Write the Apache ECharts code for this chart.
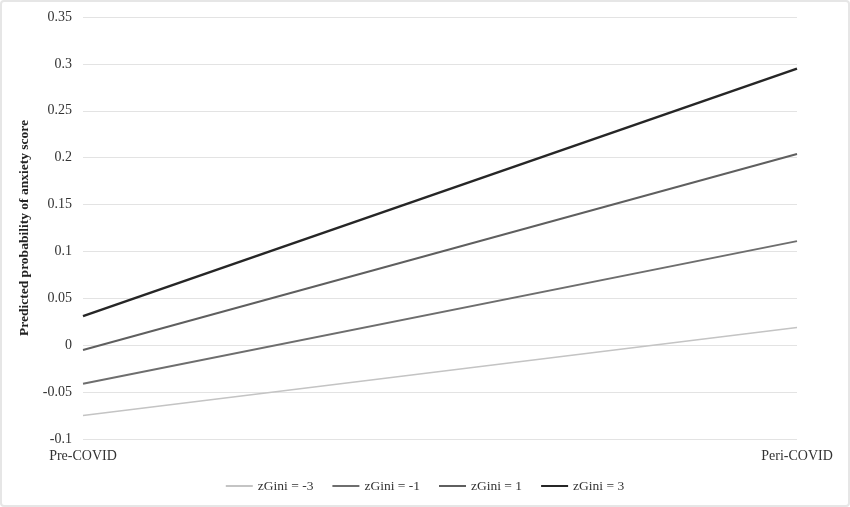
<!DOCTYPE html>
<html><head><meta charset="utf-8">
<script src="https://cdn.jsdelivr.net/npm/echarts@6/dist/echarts.min.js"></script>
<style>
html,body{margin:0;padding:0;background:#fff;}
#c{width:850px;height:507px;box-sizing:border-box;border:2px solid #e6e6e6;border-radius:4px;}
</style></head>
<body><div id="c"></div>
<script>
const categories = ["Pre-COVID", "Peri-COVID"];
const seriesNames = ["zGini = -3", "zGini = -1", "zGini = 1", "zGini = 3"];
const giniM3 = [-0.075, 0.019];
const giniM1 = [-0.041, 0.111];
const giniP1 = [-0.005, 0.204];
const giniP3 = [0.031, 0.295];
const yTicks = {min: -0.1, max: 0.35, interval: 0.05};

const colors = ["#c4c4c4", "#6e6e6e", "#5f5f5f", "#262626"];
const widths = [1.5, 2, 2, 2.5];
const data = [giniM3, giniM1, giniP1, giniP3];
const font = "Liberation Serif";

const chart = echarts.init(document.getElementById('c'));
chart.setOption({
  animation: false,
  grid: {left: 81, right: 51, top: 15, bottom: 66, containLabel: false},
  legend: {
    show: true, bottom: 7, left: 'center', itemWidth: 27, itemHeight: 2, itemGap: 19,
    icon: 'rect',
    textStyle: {fontFamily: font, fontSize: 13.5, color: '#333'},
    data: seriesNames
  },
  xAxis: {
    type: 'category', data: categories, boundaryGap: false,
    axisLine: {show: false}, axisTick: {show: false},
    axisLabel: {fontFamily: font, fontSize: 14, color: '#333', margin: 10}
  },
  yAxis: {
    type: 'value', min: yTicks.min, max: yTicks.max, interval: yTicks.interval,
    name: 'Predicted probability of anxiety score', nameLocation: 'middle', nameGap: 46,
    nameTextStyle: {fontFamily: font, fontSize: 13.5, fontWeight: 'bold', color: '#222'},
    axisLabel: {fontFamily: font, fontSize: 14, color: '#333', margin: 11,
      formatter: v => String(Math.round(v * 100) / 100)},
    splitLine: {lineStyle: {color: '#e3e3e3', width: 1}},
    axisLine: {show: false}, axisTick: {show: false}
  },
  series: data.map((d, i) => ({
    name: seriesNames[i], type: 'line', data: d, symbol: 'none',
    lineStyle: {color: colors[i], width: widths[i]}, itemStyle: {color: colors[i]}
  }))
});
</script></body></html>
